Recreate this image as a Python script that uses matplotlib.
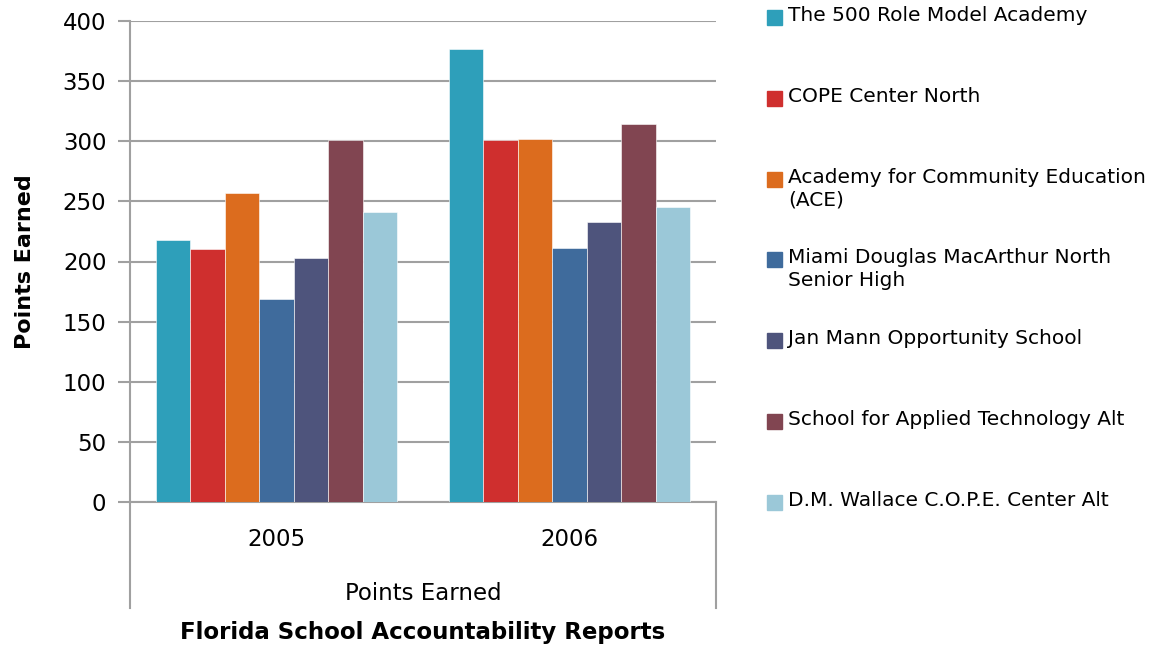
import numpy as np
import matplotlib
matplotlib.use("Agg")
import matplotlib.pyplot as plt
from matplotlib.patches import Rectangle
from matplotlib.lines import Line2D

years = ["2005", "2006"]
schools = [
    "The 500 Role Model Academy",
    "COPE Center North",
    "Academy for Community Education\n(ACE)",
    "Miami Douglas MacArthur North\nSenior High",
    "Jan Mann Opportunity School",
    "School for Applied Technology Alt",
    "D.M. Wallace C.O.P.E. Center Alt",
]
points_2005 = [218, 210, 257, 169, 203, 301, 241]
points_2006 = [377, 301, 302, 211, 233, 314, 245]
colors = ["#2E9FBA", "#CF2F2E", "#DC6C1E", "#3F6B9C", "#4E547C", "#814551", "#9BC8D8"]

plt.rcParams['font.family'] = ['DejaVu Sans']

fig = plt.figure(figsize=(11.57, 6.5), dpi=100)
ax = fig.add_axes([130 / 1157, 148 / 650, 586 / 1157, 481 / 650])

n = len(schools)
bw = 0.1175
x = np.arange(len(years))
for i in range(n):
    vals = [points_2005[i], points_2006[i]]
    ax.bar(x + (i - (n - 1) / 2) * bw, vals, width=bw, color=colors[i],
           edgecolor="white", linewidth=0.4, zorder=3)

ax.set_xlim(-0.5, 1.5)
ax.set_ylim(0, 400)
ax.set_yticks(range(0, 401, 50))
ax.set_xticks(x)
ax.set_xticklabels(years, fontsize=16.5)
ax.tick_params(axis="y", labelsize=16.5, length=9, width=1.5, color="#a0a0a0", pad=8)
ax.tick_params(axis="x", length=0, pad=19)
ax.grid(axis="y", color="#a0a0a0", linewidth=1.5, zorder=0)
for s in ["top", "right"]:
    ax.spines[s].set_visible(False)
ax.spines["left"].set_color("#a0a0a0")
ax.spines["left"].set_linewidth(1.5)
ax.spines["bottom"].set_color("#a0a0a0")
ax.spines["bottom"].set_linewidth(1.5)

# category bracket lines below the axis
for xa in [0, 1]:
    ax.add_line(Line2D([xa, xa], [0, -0.22], transform=ax.transAxes, color="#a0a0a0",
                       linewidth=1.5, clip_on=False))

ax.set_ylabel("Points Earned", fontsize=16, fontweight="bold", labelpad=20)
fig.text(423 / 1157, 1 - 593 / 650, "Points Earned", fontsize=16.5, ha="center", va="center")
fig.text(423 / 1157, 1 - 633 / 650, "Florida School Accountability Reports", fontsize=16.5,
         fontweight="bold", ha="center", va="center")

# legend, evenly spaced entries
for i in range(n):
    ytop = 17 + i * 80.8
    fig.add_artist(Rectangle((767 / 1157, 1 - (ytop + 8) / 650), 15 / 1157, 15 / 650,
                             transform=fig.transFigure, color=colors[i]))
    fig.text(788 / 1157, 1 - (ytop - 11) / 650, schools[i], fontsize=14.5, ha="left", va="top",
             linespacing=1.25)

fig.savefig("out.png", dpi=100)
